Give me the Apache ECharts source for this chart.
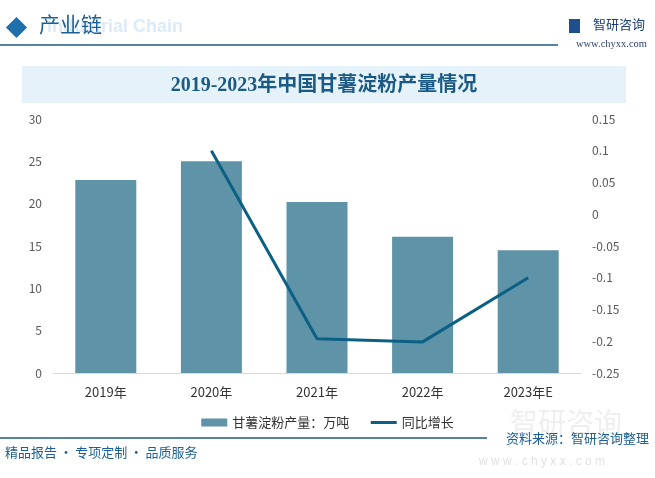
<!DOCTYPE html>
<html>
<head>
<meta charset="utf-8">
<script src="https://cdn.jsdelivr.net/npm/echarts@6/dist/echarts.min.js"></script>
<style>
  html, body { margin: 0; padding: 0; background: #fff; }
  #chart { width: 655px; height: 478px; }
</style>
</head>
<body>
<div id="chart"></div>
<script>
const years = ['2019年', '2020年', '2021年', '2022年', '2023年E']
const output = [22.8, 25.0, 20.2, 16.1, 14.5]
const growth = [null, 0.10, -0.196, -0.201, -0.10]
const leftTicks = [0, 5, 10, 15, 20, 25, 30]
const rightTicks = [-0.25, -0.2, -0.15, -0.1, -0.05, 0, 0.05, 0.1, 0.15]

const myChart = echarts.init(document.getElementById('chart'))
const cjk = '"Microsoft YaHei", "Noto Sans CJK SC", sans-serif'

// 绘制图表
const option = {
  backgroundColor: '#fff',
  textStyle: { fontFamily: cjk },
  graphic: [
    // 顶部
    { type: 'text', left: 47, top: 18, style: { text: 'Industrial Chain', fill: '#dcebf7', font: 'bold 18px Arial, sans-serif' } },
    { type: 'rect', shape: { x: 9, y: 20, width: 15, height: 15 }, rotation: Math.PI / 4, originX: 16.5, originY: 27.5, style: { fill: '#1e6fac' } },
    { type: 'text', left: 39, top: 14, style: { text: '产业链', fill: '#1b5f95', font: '21px ' + cjk } },
    { type: 'line', shape: { x1: 0, y1: 45, x2: 558, y2: 45 }, style: { stroke: '#1c5a88', lineWidth: 1.5 } },
    { type: 'rect', shape: { x: 569, y: 19, width: 11, height: 14 }, style: { fill: '#1e4f8f' } },
    { type: 'text', left: 593, top: 18, style: { text: '智研咨询', fill: '#1c3f78', font: '13px ' + cjk } },
    { type: 'text', right: 8, top: 39, style: { text: 'www.chyxx.com', fill: '#2d3f6c', font: '10.5px "Liberation Serif", serif' } },
    // 标题
    { type: 'rect', shape: { x: 22, y: 66, width: 604, height: 37 }, style: { fill: '#e6f2fa' } },
    { type: 'text', x: 324, y: 86, style: { text: '2019-2023年中国甘薯淀粉产量情况', fill: '#1b5a85', font: 'bold 20px "Liberation Serif", "Noto Sans CJK SC", serif', align: 'center', verticalAlign: 'middle' } },
    // 底部
    { type: 'text', left: 510, top: 408, style: { text: '智研咨询', fill: '#efefef', font: '28px ' + cjk } },
    { type: 'line', shape: { x1: 0, y1: 438, x2: 487, y2: 438 }, style: { stroke: '#1c5a88', lineWidth: 1.5 } },
    { type: 'text', left: 5, top: 446, style: { text: '精品报告\u2009·\u2009专项定制\u2009·\u2009品质服务', fill: '#1b5f95', font: '13px ' + cjk } },
    { type: 'text', right: 6, top: 432, style: { text: '资料来源：智研咨询整理', fill: '#1b5f95', font: '13px ' + cjk } },
    { type: 'text', right: 50, top: 456, style: { text: 'w w w . c h y x x . c o m', fill: '#e1e1e1', font: '12px Arial, sans-serif' } }
  ],
  legend: {
    top: 411,
    left: 'center',
    itemGap: 20,
    textStyle: { color: '#333', fontSize: 13 },
    data: [
      { name: '甘薯淀粉产量：万吨', icon: 'rect', itemStyle: { color: '#5f93a8' } },
      { name: '同比增长', itemStyle: { opacity: 0 }, lineStyle: { width: 3 } }
    ],
    itemWidth: 26,
    itemHeight: 8
  },
  grid: {
    left: 53,
    right: 74,
    top: 119,
    bottom: 105
  },
  xAxis: [
    {
      type: 'category',
      data: years,
      axisTick: { show: false },
      axisLine: { lineStyle: { color: '#d9d9d9' } },
      axisLabel: { color: '#333', fontSize: 13, margin: 13 }
    }
  ],
  yAxis: [
    {
      type: 'value',
      min: leftTicks[0],
      max: leftTicks[leftTicks.length - 1],
      interval: 5,
      splitLine: { show: false },
      axisLine: { show: false },
      axisTick: { show: false },
      axisLabel: { color: '#595959', fontSize: 12, margin: 11 }
    },
    {
      type: 'value',
      min: rightTicks[0],
      max: rightTicks[rightTicks.length - 1],
      interval: 0.05,
      splitLine: { show: false },
      axisLine: { show: false },
      axisTick: { show: false },
      axisLabel: {
        color: '#595959',
        fontSize: 12,
        margin: 11,
        formatter: v => String(Math.round(v * 100) / 100)
      }
    }
  ],
  series: [
    {
      name: '甘薯淀粉产量：万吨',
      type: 'bar',
      barWidth: 61,
      itemStyle: { color: '#5f93a8' },
      data: output
    },
    {
      name: '同比增长',
      type: 'line',
      yAxisIndex: 1,
      symbol: 'none',
      lineStyle: { color: '#0b6083', width: 3 },
      itemStyle: { color: '#0b6083' },
      data: growth
    }
  ]
}
myChart.setOption(option)
</script>
</body>
</html>
